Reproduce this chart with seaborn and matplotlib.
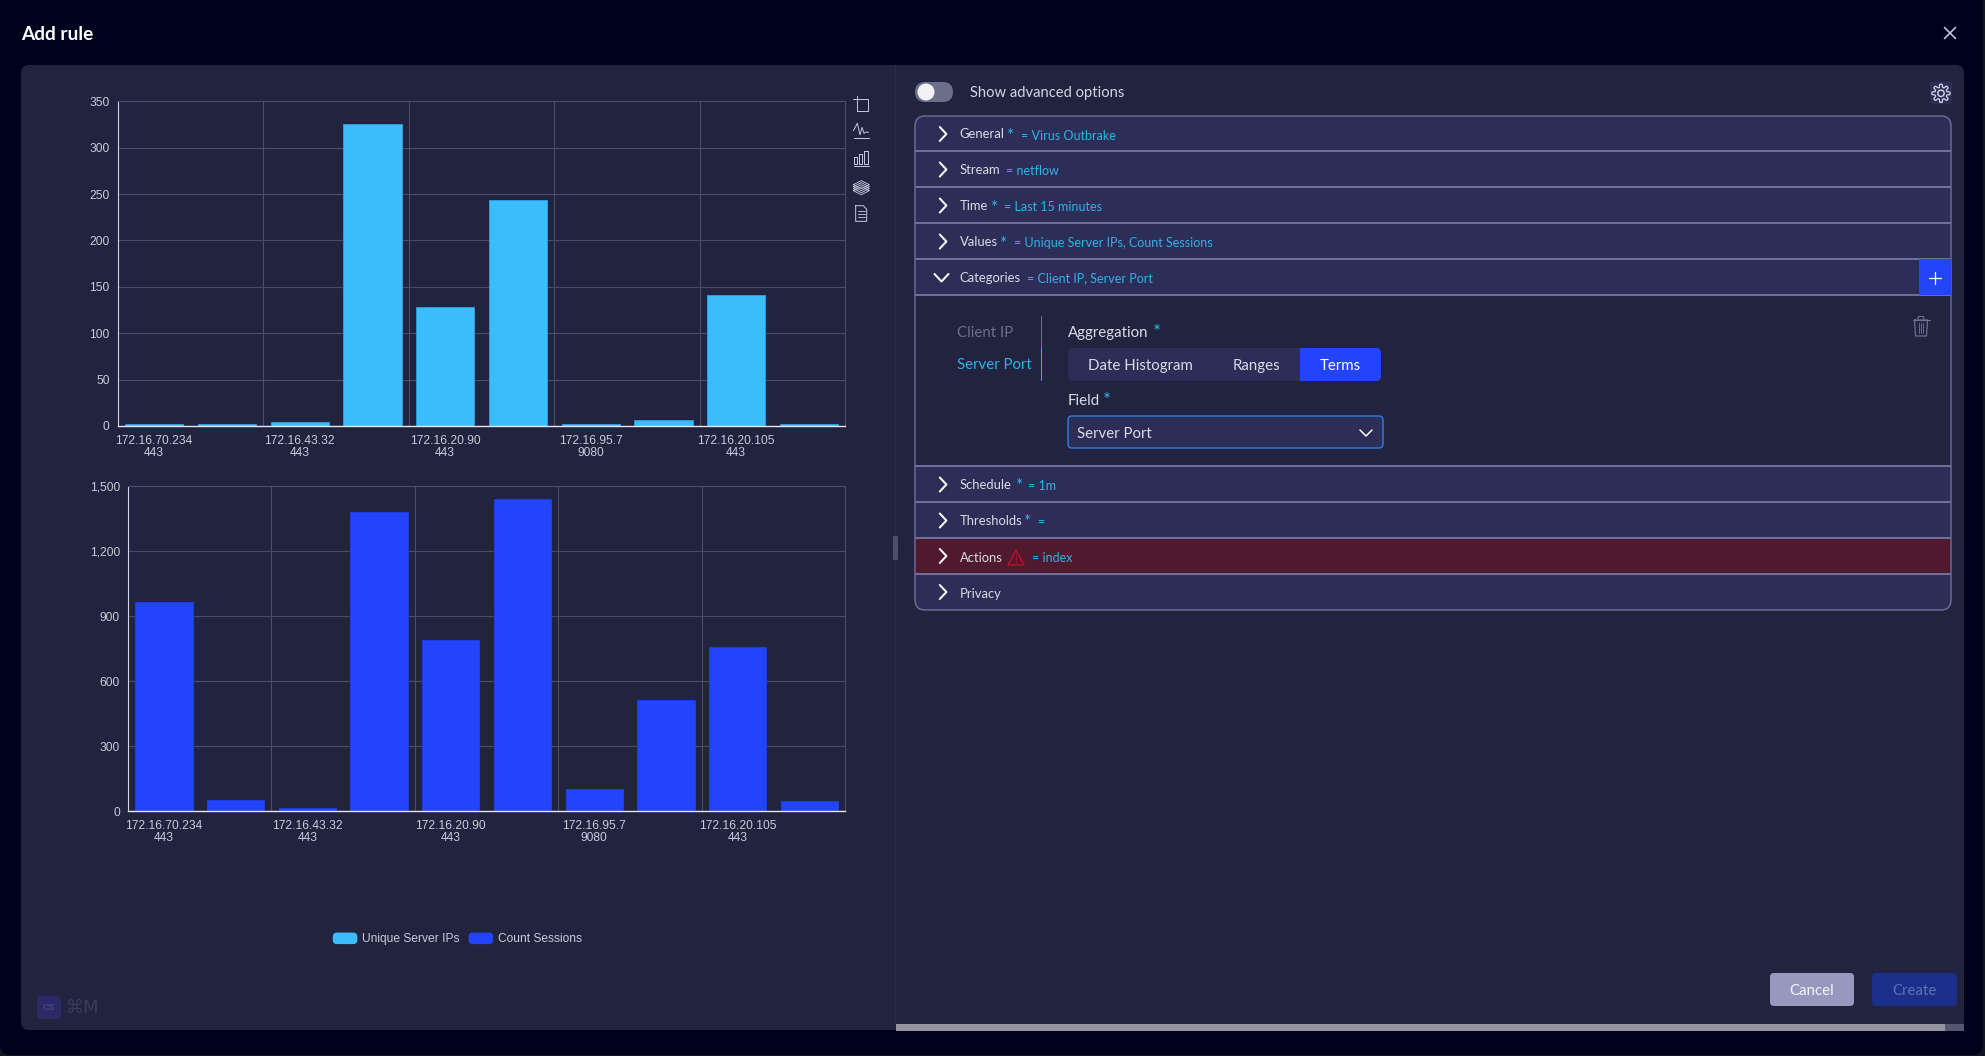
import numpy as np
import matplotlib
matplotlib.use("Agg")
import matplotlib.pyplot as plt
from matplotlib.patches import Rectangle, FancyBboxPatch, Polygon, Circle, Patch, Ellipse
from matplotlib.legend_handler import HandlerPatch
import seaborn as sns

# ---- data ----
positions = list(range(10))
unique_server_ips = [2, 2, 4, 325, 128, 244, 2, 6, 141, 2]
count_sessions = [967, 50, 15, 1382, 790, 1440, 102, 515, 760, 45]
tick_positions = [0, 2, 4, 6, 8]
tick_labels = ["172.16.70.234\n443", "172.16.43.32\n443", "172.16.20.90\n443",
               "172.16.95.7\n9080", "172.16.20.105\n443"]
y1_ticks = [0, 50, 100, 150, 200, 250, 300, 350]
y2_ticks = [0, 300, 600, 900, 1200, 1500]
y2_labels = ["0", "300", "600", "900", "1,200", "1,500"]
series_names = ["Unique Server IPs", "Count Sessions"]
rows_top = [("General", True, "= Virus Outbrake", 1007, 1021, 134),
            ("Stream", False, "= netflow", 0, 1006.5, 169.5),
            ("Time", True, "= Last 15 minutes", 990.5, 1004.5, 205.5),
            ("Values", True, "= Unique Server IPs, Count Sessions", 1000, 1013.5, 241.5),
            ("Schedule", True, "= 1m", 1015.5, 1028.5, 484.5),
            ("Thresholds", True, "=", 1024, 1037, 520.5)]

W, H = 1985, 1056
BG = "#00011c"; PANEL = "#21233f"; ROW = "#2d2e57"; LINE = "#6f7099"
CYAN = "#3bbdfb"; BLUE = "#2245fb"; TXT = "#d9dae6"; ACC = "#2fb2e6"; GRID = "#4b4d69"
UI = "Lato"
px = lambda p: p * 0.72

sns.set_theme(style="dark")
plt.rcParams["font.family"] = ["Liberation Sans", "DejaVu Sans"]
plt.rcParams["patch.force_edgecolor"] = False
plt.rcParams["patch.edgecolor"] = "none"
plt.rcParams["patch.linewidth"] = 0
fig = plt.figure(figsize=(W / 100, H / 100), dpi=100, facecolor="#15151f")

# ---- interface layer, in pixel coordinates ----
ui = fig.add_axes([0, 0, 1, 1], zorder=0)
ui.set_xlim(0, W); ui.set_ylim(H, 0); ui.axis("off")

def rbox(x0, y0, x1, y1, r, fc, ec="none", lw=0, z=1, **kw):
    p = FancyBboxPatch((x0 + r, y0 + r), x1 - x0 - 2 * r, y1 - y0 - 2 * r,
                       boxstyle=f"round,pad={r},rounding_size={r}",
                       fc=fc, ec=ec, lw=lw, zorder=z, **kw)
    ui.add_patch(p)
    return p

def label(x, y, s, size=13, color=TXT, weight="normal", ha="left", z=6):
    return ui.text(x, y + 1, s, fontsize=px(size), color=color, fontweight=weight, ha=ha,
                   va="center", family=[UI, "DejaVu Sans"], zorder=z)

def star_mark(x, y, size=17):
    return ui.text(x, y + 3, "*", fontsize=px(size), color=ACC, ha="left", va="center",
                   family=[UI, "DejaVu Sans"], zorder=6)

def box(x, y, w, h, fc, z):
    ui.add_patch(Rectangle((x, y), w, h, fc=fc, ec="none", lw=0, zorder=z))

def pl(xs, ys, color, lw=1.0, z=6, **kw):
    ui.plot(xs, ys, color=color, lw=lw * 0.72, zorder=z, solid_capstyle="round", **kw)

rbox(0, -12, 1983, 1055, 10, BG)
rbox(21, 65, 1964, 1030, 8, PANEL, z=2)
box(895, 65, 1, 959, "#2a2c4a", 3)
rbox(893, 536, 898, 560, 1.5, "#4d4f6b", z=4)

label(21, 33, "Add rule", 19, "#ffffff", "bold")
pl([1944.5, 1955.5], [27.5, 38.5], "#c8c9d6", 1.6)
pl([1944.5, 1955.5], [38.5, 27.5], "#c8c9d6", 1.6)

# toggle
rbox(915, 82, 953, 102, 10, "#6d6e8a", z=4)
ui.add_patch(Ellipse((926, 92), 17, 17, fc="#f2f2f6", ec="none", zorder=5))
label(970, 91.5, "Show advanced options", 14.7, "#d4d5e2")

# gear
rbox(1930, 82, 1952, 104, 2, "#2d2e57", z=4)
theta = np.linspace(0, 2 * np.pi, 161)
radius = 7.6 + 1.5 * np.clip(2.2 * np.cos(8 * theta), -1, 1)
pl(1941 + radius * np.sin(theta), 93.3 + radius * np.cos(theta), "#d9dae6", 1.2)
ui.add_patch(Circle((1941, 93.3), 3.2, fc="none", ec="#d9dae6", lw=1.0, zorder=6))

# accordion
outline = rbox(915, 116, 1951, 610, 10, PANEL, z=3)
bands = [(116, 151, ROW), (151, 187, ROW), (187, 223, ROW), (223, 259, ROW), (259, 295, ROW),
         (466, 502, ROW), (502, 538, ROW), (538, 574, "#50192e"), (574, 610, ROW)]
for y0, y1, c in bands:
    r = Rectangle((915, y0), 1036, y1 - y0, fc=c, ec="none", lw=0, zorder=3.2)
    ui.add_patch(r); r.set_clip_path(outline)
for yy in [151, 187, 223, 259, 295, 466, 502, 538, 574]:
    box(915, yy - 0.6, 1036, 1.3, LINE, 3.4)
rbox(915, 116, 1951, 610, 10, "none", ec=LINE, lw=1.0, z=3.6)

def chevron(y):
    pl([939.8, 946.4, 939.8], [y - 7, y, y + 7], "#ffffff", 2)

for name, star, value, sx, vx, y in rows_top:
    chevron(y)
    label(959.5, y - 0.5, name, 13, TXT)
    if star:
        star_mark(sx, y - 1)
    label(vx, y + 0.5, value, 12.5, ACC)

# categories row
pl([934.5, 941.5, 948.5], [274, 281.5, 274], "#ffffff", 2)
label(959.5, 277.5, "Categories", 13, TXT)
label(1027, 277.5, "= Client IP, Server Port", 12.5, ACC)
box(1919, 259, 32, 36, BLUE, 5)
pl([1928.5, 1940.5], [278, 278], "#ffffff", 1.3)
pl([1934.5, 1934.5], [272, 284], "#ffffff", 1.3)

# actions row
chevron(556)
label(959.5, 556.5, "Actions", 13, TXT)
ui.add_patch(Polygon([(1016, 550), (1024, 565), (1008, 565)], closed=True, fc="none",
                     ec="#b5112a", lw=1.1, joinstyle="round", zorder=6))
pl([1016, 1016], [555, 560], "#b5112a", 1.2)
pl([1016, 1016], [562, 562.6], "#b5112a", 1.2)
label(1031.5, 557.5, "= index", 12.5, ACC)
chevron(592)
label(959.5, 592.5, "Privacy", 13, TXT)

# sub-panel
label(957, 332, "Client IP", 15, "#6b6e8a")
label(957, 364, "Server Port", 15, ACC)
pl([1040.5, 1040.5], [316, 347], "#6b6e8a", 1)
pl([1040.5, 1040.5], [347, 380], ACC, 1)
label(1068, 332, "Aggregation", 15, TXT)
star_mark(1153, 330, 19)
rbox(1068, 348, 1381, 381, 5, ROW, z=4)
rbox(1300, 348, 1381, 381, 5, BLUE, z=4.2)
box(1300, 348, 20, 33, BLUE, 4.3)
label(1140, 365, "Date Histogram", 15, TXT, ha="center")
label(1256, 365, "Ranges", 15, TXT, ha="center")
label(1340, 365, "Terms", 15, "#ffffff", ha="center")
label(1068, 400, "Field", 15, TXT)
star_mark(1103, 398, 19)
rbox(1068, 416, 1383, 448, 4, ROW, ec="#2f80e4", lw=1.0, z=4)
label(1077, 433, "Server Port", 15, TXT)
pl([1360, 1366, 1372], [430, 436, 430], "#ffffff", 1.5)

# trash
pl([1912.5, 1929.5], [319.5, 319.5], "#6f7192", 1.2)
pl([1918, 1918.5, 1923.5, 1924], [319, 316.5, 316.5, 319], "#6f7192", 1.1)
pl([1914.5, 1915.5, 1926.5, 1927.5, 1914.5], [320, 336, 336, 320, 320], "#6f7192", 1.2)
for xx in (1919, 1921, 1923):
    pl([xx, xx], [323, 333], "#6f7192", 0.9)

# buttons and scroll bar
rbox(1770, 973, 1854, 1006, 4, "#9699bd", z=4)
label(1812, 990, "Cancel", 15, "#f3f3f8", ha="center")
rbox(1872, 973, 1957, 1006, 4, "#1a2f8a", z=4)
label(1914.5, 990, "Create", 15, "#5f70b5", ha="center")
box(896, 1024, 1068, 7, "#55566f", 4)
box(896, 1024, 1049, 7, "#96959f", 4.1)

# watermark
rbox(37, 996, 61, 1019, 4, "#2c2a66", z=4)
ui.text(49, 1008, "CS", fontsize=px(9), color="#45458a", ha="center", va="center", zorder=5, weight="bold")
ui.text(66, 1008, "\u2318M", fontsize=px(18), color="#3a3c58", ha="left", va="center", zorder=5,
        family=["DejaVu Sans"])

# chart toolbar icons, positions measured in a 3x crop
Zx = lambda v: 840 + np.asarray(v) / 3
Zy = lambda v: 90 + np.asarray(v) / 3
IC = "#c3c5d8"
def zl(xs, ys, lw=1.0):
    pl(Zx(xs), Zy(ys), IC, lw)
zl([52, 85, 85, 52, 52], [27, 27, 62, 62, 27])
zl([40, 62], [27, 27]); zl([50, 50], [18, 38])
zl([40, 52, 60, 66, 72, 78, 86], [122, 100, 134, 112, 130, 126, 127])
zl([41, 86], [145, 145])
for a, b, t in [(43, 52, 201), (58, 67, 192), (73, 83, 183)]:
    zl([a, b, b, a, a], [t, t, 221, 221, t])
zl([41, 86], [229, 229])
for dy in range(0, 24, 6):
    zl([40, 64, 88, 64, 40], [284 + dy, 272 + dy, 284 + dy, 296 + dy, 284 + dy], 0.9)
zl([47, 70, 80, 80, 47, 47], [347, 347, 358, 394, 394, 347])
for yy in (362, 372, 382):
    zl([53, 74], [yy, yy], 0.9)

# ---- charts ----
def chart(values, color, edge, left, yticks, ylabels, ytop, top, bottom):
    right = 845.3
    ax = fig.add_axes([left / W, 1 - bottom / H, (right - left) / W, (bottom - top) / H], zorder=2)
    ax.patch.set_alpha(0)
    sns.barplot(x=positions, y=values, color=color, saturation=1, width=0.8,
                edgecolor=edge, linewidth=0.7, ax=ax, zorder=2)
    ax.set_xlim(-0.5, 9.5)
    ax.set_ylim(0, ytop)
    ax.set_yticks(yticks, ylabels)
    ax.set_xticks(tick_positions, tick_labels)
    ax.set_xticks([1.5, 3.5, 5.5, 7.5], minor=True)
    ax.set_axisbelow(True)
    ax.grid(False)
    ax.grid(True, axis="y", which="major", color=GRID, lw=0.8)
    ax.grid(True, axis="x", which="minor", color=GRID, lw=0.8)
    ax.tick_params(axis="both", which="both", length=0, colors="#c9cad8", labelsize=px(12))
    ax.tick_params(axis="y", pad=5.8)
    ax.tick_params(axis="x", pad=6.3)
    for t in ax.get_xticklabels():
        t.set_linespacing(1.03)
    for s in ("top", "right"):
        ax.spines[s].set_color(GRID); ax.spines[s].set_linewidth(0.8)
    ax.spines["left"].set_color("#d5d6e4"); ax.spines["left"].set_linewidth(0.8)
    ax.spines["bottom"].set_color("#e6e7f2"); ax.spines["bottom"].set_linewidth(1.0)
    ax.set_xlabel(""); ax.set_ylabel("")
    return ax

ax1 = chart(unique_server_ips, CYAN, "#2c9bd6", 117.8, y1_ticks, [str(v) for v in y1_ticks], 350, 101.3, 426)
ax2 = chart(count_sessions, BLUE, "#1f3de0", 128.0, y2_ticks, y2_labels, 1500, 486.4, 811.2)

def round_swatch(legend, orig_handle, xdescent, ydescent, width, height, fontsize):
    return FancyBboxPatch((-xdescent + 2, -ydescent + 2), width - 4, height - 4,
                          boxstyle="round,pad=2,rounding_size=3", mutation_aspect=1)

handles = [Patch(fc=CYAN, ec=CYAN, label=series_names[0]), Patch(fc=BLUE, ec=BLUE, label=series_names[1])]
fig.legend(handles=handles, loc="center", bbox_to_anchor=(457.5 / W, 1 - 939 / H), ncol=2, frameon=False,
           prop={"family": "Liberation Sans", "size": px(12)}, labelcolor="#c9cad8",
           handlelength=2.05, handleheight=1.1, handletextpad=0.42, columnspacing=0.72,
           handler_map={Patch: HandlerPatch(patch_func=round_swatch)})

fig.savefig("out.png", dpi=100, facecolor=fig.get_facecolor())
